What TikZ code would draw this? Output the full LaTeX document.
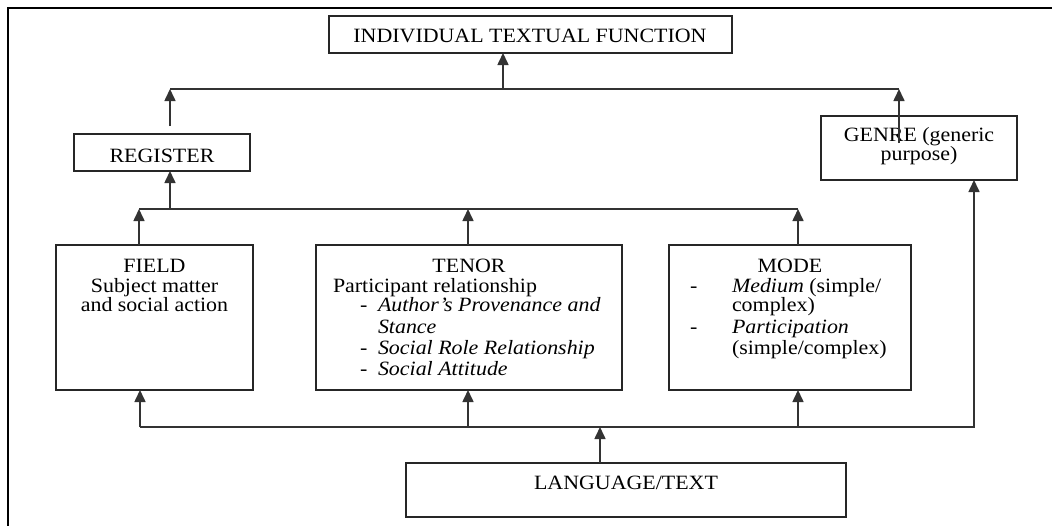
\documentclass[tikz,border=0pt]{standalone}
\usepackage{fontspec}
\setmainfont{Liberation Serif}[FakeStretch=1.08]
\usetikzlibrary{arrows.meta}
\begin{document}
\begin{tikzpicture}[x=1pt,y=-1pt,
  box/.style={draw=black!85, line width=1.5pt, inner sep=0pt, outer sep=0pt, anchor=north west},
  lbl/.style={font=\fontsize{20.3}{20}\selectfont, inner sep=0pt, outer sep=0pt, text=black},
  lc/.style={lbl, anchor=base},
  lw/.style={lbl, anchor=base west},
  conn/.style={draw=black!80, line width=1.6pt},
  arr/.style={conn, -{Triangle[length=12pt,width=11pt]}},
]
\useasboundingbox (0,0) rectangle (1052,525);
\fill[white] (0,0) rectangle (1052,525);
% outer frame (cropped)
\draw[line width=2.6pt, black] (8,540) -- (8,8) -- (1070,8);

% boxes
\node[box, minimum width=403pt, minimum height=37pt] (itf) at (329,16) {};
\node[box, minimum width=176pt, minimum height=37pt] (reg) at (74,134) {};
\node[box, minimum width=196pt, minimum height=64pt] (genre) at (821,116) {};
\node[box, minimum width=197pt, minimum height=145pt] (field) at (56,245) {};
\node[box, minimum width=306pt, minimum height=145pt] (tenor) at (316,245) {};
\node[box, minimum width=242pt, minimum height=145pt] (mode) at (669,245) {};
\node[box, minimum width=440pt, minimum height=54pt] (lang) at (406,463) {};

% texts
\node[lc] (itft) at (530,42) {INDIVIDUAL TEXTUAL FUNCTION};
\node[lc] (regt) at (162,162) {REGISTER};
\node[lc] (genret1) at (919,141) {GENRE (generic};
\node[lc] (genret2) at (919,160) {purpose)};
\node[lc] (langt) at (626,489) {LANGUAGE/TEXT};

\node[lc] (fieldt1) at (154.5,272) {FIELD};
\node[lc] (fieldt2) at (154.5,292) {Subject matter};
\node[lc] (fieldt3) at (154.5,311) {and social action};

\node[lc] (tenort1) at (469,272) {TENOR};
\node[lw] (tenort2) at (333,292) {Participant relationship};
\node[lw] (tenord1) at (360,311) {-};
\node[lw] (tenort3) at (378,311) {\textit{Author's Provenance and}};
\node[lw] (tenort4) at (378,333) {\textit{Stance}};
\node[lw] (tenord2) at (360,354) {-};
\node[lw] (tenort5) at (378,354) {\textit{Social Role Relationship}};
\node[lw] (tenord3) at (360,375) {-};
\node[lw] (tenort6) at (378,375) {\textit{Social Attitude}};

\node[lc] (modet1) at (790,272) {MODE};
\node[lw] (moded1) at (690,292) {-};
\node[lw] (modet2) at (732,292) {\textit{Medium} (simple/};
\node[lw] (modet3) at (732,311) {complex)};
\node[lw] (moded2) at (690,333) {-};
\node[lw] (modet4) at (732,333) {\textit{Participation}};
\node[lw] (modet5) at (732,354) {(simple/complex)};

% top bus
\coordinate (busTL) at (170,89);
\coordinate (busTR) at (899,89);
\coordinate (topjoin) at (503,89);
\draw[conn] (busTL) -- (busTR);
\draw[arr] (topjoin) -- (topjoin |- itf.south);
\coordinate (regtop) at (170,126);
\draw[arr] (regtop) -- (regtop |- busTL);
\coordinate (genin) at (899,143);
\draw[arr] (genin) -- (genin |- busTR);

% middle bus
\coordinate (busML) at (139,209);
\coordinate (busMR) at (798,209);
\coordinate (regjoin) at (170,209);
\coordinate (tenjoin) at (468,209);
\draw[conn] (busML) -- (busMR);
\draw[arr] (regjoin) -- (regjoin |- reg.south);
\draw[arr] (busML |- field.north) -- (busML);
\draw[arr] (tenjoin |- tenor.north) -- (tenjoin);
\draw[arr] (busMR |- mode.north) -- (busMR);

% bottom bus
\coordinate (busBL) at (140,427);
\coordinate (busBR) at (974,427);
\coordinate (tenbot) at (468,427);
\coordinate (modebot) at (798,427);
\coordinate (langjoin) at (600,427);
\draw[arr] (busBL) -- (busBR) -- (busBR |- genre.south);
\draw[arr] (busBL) -- (busBL |- field.south);
\draw[arr] (tenbot) -- (tenbot |- tenor.south);
\draw[arr] (modebot) -- (modebot |- mode.south);
\draw[arr] (langjoin |- lang.north) -- (langjoin);
\end{tikzpicture}
\end{document}
